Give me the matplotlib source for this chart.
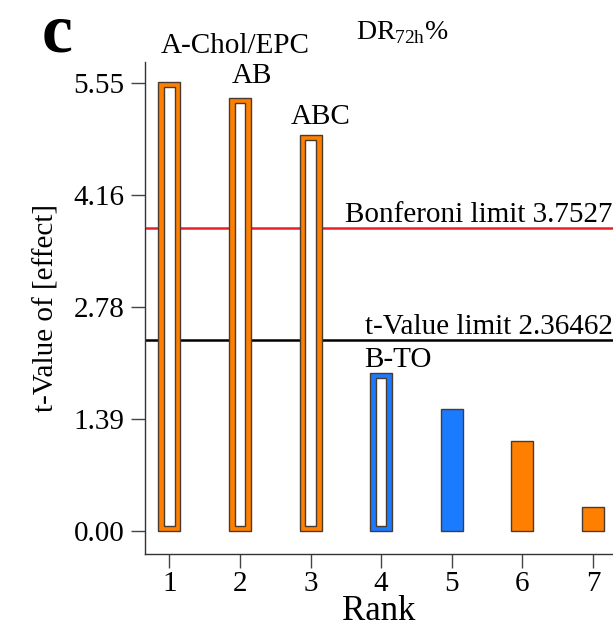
import numpy as np
import matplotlib
matplotlib.use('Agg')
import matplotlib.pyplot as plt

# Datos (Pareto de efectos, DR72h%)
ranks = [1, 2, 3, 4, 5, 6, 7]
t_values = [5.56, 5.36, 4.91, 1.96, 1.52, 1.12, 0.30]
colors = ['#ff8000', '#ff8000', '#ff8000', '#1a7bff', '#1a7bff', '#ff8000', '#ff8000']
hollow = [True, True, True, True, False, False, False]
bar_labels = ['A-Chol/EPC', 'AB', 'ABC', 'B-TO']
y_ticks = [0.00, 1.39, 2.78, 4.16, 5.55]
bonferroni = 3.7527
t_limit = 2.36462

plt.rcParams['font.family'] = ['Liberation Serif', 'DejaVu Serif']
plt.rcParams['mathtext.fontset'] = 'custom'
plt.rcParams['mathtext.rm'] = 'Liberation Serif'

fig = plt.figure(figsize=(6.13, 6.35), dpi=100)
ax = fig.add_axes([0.2366, 0.1276, 0.7634, 0.775])

edge = '#4a3b2e'
w = 0.31
ax.bar(ranks, t_values, width=w, color=colors, edgecolor=edge, linewidth=1.0, zorder=3)

# barras huecas: rectangulo blanco interior
dx, dy = 0.08, 0.065
for r, v, h in zip(ranks, t_values, hollow):
    if h:
        ax.bar(r, v - 2 * dy, bottom=dy, width=w - 2 * dx, color='white',
               edgecolor=edge, linewidth=1.0, zorder=4)

# Limites
ax.axhline(bonferroni, color='#e8202a', lw=1.8, zorder=2)
ax.axhline(t_limit, color='black', lw=1.8, zorder=2)

fs = 21
ax.text(1.93, 6.0, bar_labels[0], ha='center', va='center', fontsize=fs, clip_on=False)
ax.text(2.17, 5.63, bar_labels[1], ha='center', va='center', fontsize=fs)
ax.text(3.15, 5.13, bar_labels[2], ha='center', va='center', fontsize=fs)
ax.text(4.24, 2.12, bar_labels[3], ha='center', va='center', fontsize=fs)
ax.text(7.28, 3.91, f'Bonferoni limit {bonferroni}', ha='right', va='center', fontsize=fs)
ax.text(7.28, 2.53, f't-Value limit {t_limit}', ha='right', va='center', fontsize=fs)

ax.set_xlim(0.656, 7.283)
ax.set_ylim(-0.28, 5.81)
ax.set_xticks(ranks)
ax.set_yticks(y_ticks)
ax.set_yticklabels([f'{t:.2f}' for t in y_ticks])
ax.tick_params(axis='both', labelsize=fs, length=10, width=1, color='#444444', pad=5)
ax.tick_params(axis='x', pad=2)

for s in ['top', 'right']:
    ax.spines[s].set_visible(False)
for s in ['left', 'bottom']:
    ax.spines[s].set_color('#333333')
    ax.spines[s].set_linewidth(1.0)

ax.set_xlabel('Rank', fontsize=25, labelpad=-1)
ax.set_ylabel('t-Value of [effect]', fontsize=21, labelpad=10)

fig.text(0.093, 0.945, 'c', fontsize=50, fontweight='bold', ha='center', va='center')
fig.text(0.657, 0.948, r'DR$_{\mathregular{72h}}$%', fontsize=20, ha='center', va='center')

plt.savefig('out.png', dpi=100)
